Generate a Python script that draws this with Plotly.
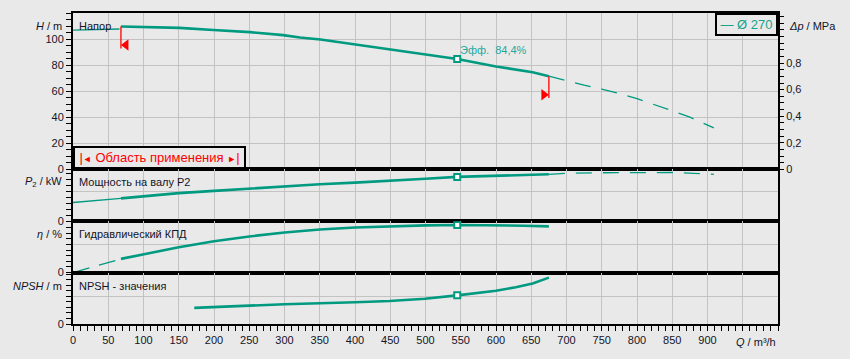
import plotly.graph_objects as go

# ---------------- data ----------------
q_min = 68          # start of operating range, m3/h
q_max = 675         # end of operating range, m3/h
q_bep = 545         # best efficiency point, m3/h
eff_text = "Эфф.  84,4%"
impeller = "Ø 270"

# Head H [m]
h_start_q = [0, 30, 66]
h_start = [106.9, 107.2, 107.7]
h_q = [68, 109, 151, 199, 251, 298, 322, 351, 400, 449, 499, 545, 600, 652, 675]
h_val = [109.6, 109.2, 108.6, 106.9, 105.3, 103.0, 101.2, 99.7, 95.9, 91.8, 88.2, 84.7, 79.0, 74.5, 71.5]
h_ext_q = [675, 700, 725, 750, 775, 800, 825, 850, 875, 900, 909]
h_ext = [71.5, 68.0, 64.6, 61.6, 58.2, 54.2, 49.8, 44.9, 40.0, 34.3, 31.8]
h_bep = 84.7

# Shaft power P2 [kW]
p_start_q = [0, 50, 68]
p_start = [62.7, 72.6, 76.3]
p_q = [68, 100, 150, 200, 250, 300, 350, 400, 450, 500, 545, 600, 650, 675]
p_val = [76.3, 83.8, 93.7, 101.3, 108.9, 116.8, 123.4, 128.7, 134.3, 141.5, 147.8, 151.8, 155.0, 156.4]
p_ext_q = [675, 700, 750, 800, 850, 880, 909]
p_ext = [156.4, 159.5, 161.5, 162.8, 162.5, 159.5, 156.5]
p_bep = 147.8

# Hydraulic efficiency eta [%]
e_start_q = [0, 30, 68]
e_start = [0, 11.0, 24.3]
e_q = [68, 100, 150, 200, 250, 300, 350, 400, 450, 500, 545, 600, 640, 675]
e_val = [24.3, 32.5, 45.0, 55.5, 64.0, 71.0, 76.2, 79.8, 82.0, 83.6, 84.4, 84.3, 83.0, 81.9]
e_bep = 84.4

# NPSH [m]
n_q = [172, 200, 250, 300, 371, 400, 449, 499, 545, 580, 600, 628, 652, 675]
n_val = [2.91, 3.09, 3.32, 3.57, 3.75, 3.93, 4.16, 4.57, 5.18, 5.71, 6.0, 6.66, 7.32, 8.39]
n_bep = 5.18

x_ticks = list(range(0, 1001, 50))
x_labels = [str(v) if v <= 900 else "" for v in x_ticks]
h_ticks = [0, 20, 40, 60, 80, 100]
dp_ticks = [0, 0.2, 0.4, 0.6, 0.8]
dp_labels = ["0", "0,2", "0,4", "0,6", "0,8"]
RHO_G = 1000 * 9.81 / 1e6   # m of head -> MPa

# ---------------- style ----------------
TEAL = "#009a80"
TEAL_TXT = "#17a38c"
EFF_TXT = "#22a89e"
RED = "#ff0000"
BG = "#e9e9e9"
GRID = "#c3c3c3"
TXT = "#141428"
FONT = "Liberation Sans, Arial, sans-serif"
THICK = 2.6
THIN = 1.3
DASH = "16px,11px"
MARK_LEN = 16.8
TRI_DY = 14.2
TRI_DX = 7.1

fig = go.Figure()

def line(x, y, ax, width, dash="solid"):
    fig.add_trace(go.Scatter(x=x, y=y, mode="lines", xaxis=ax[0], yaxis=ax[1],
                             line=dict(color=TEAL, width=width, dash=dash),
                             showlegend=False, hoverinfo="skip"))

def bep(y, ax):
    fig.add_trace(go.Scatter(x=[q_bep], y=[y], mode="markers", xaxis=ax[0], yaxis=ax[1],
                             marker=dict(symbol="square", size=6, color="white",
                                         line=dict(color=TEAL, width=2)),
                             showlegend=False, hoverinfo="skip"))

A1, A2, A3, A4 = ("x", "y"), ("x2", "y2"), ("x3", "y3"), ("x4", "y4")

# H
line(h_start_q, h_start, A1, THIN)
line(h_q, h_val, A1, THICK)
line(h_ext_q, h_ext, A1, THIN, DASH)
# invisible trace for the pressure axis
fig.add_trace(go.Scatter(x=h_q, y=[v * RHO_G for v in h_val], mode="lines", xaxis="x", yaxis="y5",
                         line=dict(color="rgba(0,0,0,0)", width=0), showlegend=False, hoverinfo="skip"))
# operating range markers
h_first, h_last = h_val[0], h_val[-1]
fig.add_trace(go.Scatter(x=[q_min, q_min, None, q_max, q_max],
                         y=[h_first, h_first - MARK_LEN, None, h_last, h_last - MARK_LEN],
                         mode="lines", xaxis="x", yaxis="y", line=dict(color=RED, width=1.3),
                         showlegend=False, hoverinfo="skip"))
fig.add_trace(go.Scatter(x=[q_min + TRI_DX], y=[h_first - TRI_DY], mode="markers", xaxis="x", yaxis="y",
                         marker=dict(symbol="triangle-left", size=10, color=RED),
                         showlegend=False, hoverinfo="skip"))
fig.add_trace(go.Scatter(x=[q_max - TRI_DX], y=[h_last - TRI_DY], mode="markers", xaxis="x", yaxis="y",
                         marker=dict(symbol="triangle-right", size=10, color=RED),
                         showlegend=False, hoverinfo="skip"))
bep(h_bep, A1)

# P2
line(p_start_q, p_start, A2, THIN)
line(p_q, p_val, A2, THICK)
line(p_ext_q, p_ext, A2, THIN, DASH)
bep(p_bep, A2)

# eta
line(e_start_q, e_start, A3, THIN, "17px,10px")
line(e_q, e_val, A3, THICK)
bep(e_bep, A3)

# NPSH
line(n_q, n_val, A4, THICK)
bep(n_bep, A4)

# ---------------- axes ----------------
b1, b2, b3 = 0.4974, 0.3300, 0.1652
tickfont = dict(family=FONT, size=11, color=TXT)

def xax(anchor, show):
    d = dict(domain=[0, 1], range=[0, 1000], anchor=anchor, showline=True, mirror=True,
             linecolor="black", linewidth=2, showgrid=True, gridcolor=GRID, gridwidth=1,
             tickmode="array", tickvals=x_ticks, zeroline=False, fixedrange=True)
    if show:
        d.update(ticktext=x_labels, ticks="outside", ticklen=5, tickcolor="black", tickwidth=1,
                 tickfont=tickfont,
                 minor=dict(tickmode="array", tickvals=list(range(0, 1001, 10)),
                            ticks="outside", ticklen=5, tickcolor="black", tickwidth=1, showgrid=False))
    else:
        d.update(showticklabels=False, ticks="", matches="x4")
    return d

def yax(domain, rng, tickvals, ticktext, minor_step, anchor, grid=True):
    minor_vals = []
    v = 0.0
    while v <= rng[1] + 1e-9:
        minor_vals.append(round(v, 6))
        v += minor_step
    return dict(domain=domain, range=rng, anchor=anchor, showline=True, mirror=True,
                linecolor="black", linewidth=2, showgrid=grid, gridcolor=GRID, gridwidth=1,
                tickmode="array", tickvals=tickvals, ticktext=ticktext, ticks="outside",
                ticklen=5, tickcolor="black", tickwidth=1, tickfont=tickfont, zeroline=False,
                fixedrange=True,
                minor=dict(tickmode="array", tickvals=minor_vals, ticks="outside", ticklen=5,
                           tickcolor="black", tickwidth=1, showgrid=False))

fig.update_layout(
    width=850, height=359,
    margin=dict(l=73, r=72, t=11, b=35),
    paper_bgcolor=BG, plot_bgcolor=BG,
    font=dict(family=FONT, size=11, color=TXT),
    xaxis=xax("y", False),
    xaxis2=xax("y2", False),
    xaxis3=xax("y3", False),
    xaxis4=xax("y4", True),
    yaxis=yax([b1, 1], [0, 120], h_ticks, [str(v) for v in h_ticks], 5, "x"),
    yaxis2=yax([b2, b1], [0, 173], [0, 100], ["0", ""], 20, "x2"),
    yaxis3=yax([b3, b2], [0, 90.7], [0, 50], ["0", ""], 10, "x3"),
    yaxis4=yax([0, b3], [0, 9.29], [0, 5], ["0", ""], 1, "x4"),
    yaxis5=dict(overlaying="y", side="right", anchor="x", range=[0, 120 * RHO_G],
                tickmode="array", tickvals=dp_ticks, ticktext=dp_labels, ticks="outside",
                ticklen=5, tickcolor="black", tickwidth=1, tickfont=tickfont, showgrid=False,
                zeroline=False, showline=False, fixedrange=True,
                minor=dict(tickmode="array", tickvals=[round(i * 0.05, 2) for i in range(24)],
                           ticks="outside", ticklen=5, tickcolor="black", tickwidth=1, showgrid=False)),
)

ann = []
def label(text, xref, x, yref, y, xanchor, xshift=0, yshift=0, color=TXT, size=11):
    ann.append(dict(text=text, xref=xref, x=x, yref=yref, y=y, xanchor=xanchor, yanchor="middle",
                    xshift=xshift, yshift=yshift, showarrow=False,
                    font=dict(family=FONT, size=size, color=color)))

# axis titles
label("<i>H</i> / m", "paper", 0, "y", 110, "right", xshift=-9)
label("<i>Δp</i> / MPa", "paper", 1, "y", 110, "left", xshift=9)
label("<i>P</i><sub>2</sub> / kW", "paper", 0, "y2 domain", 0.75, "right", xshift=-9)
label("<i>η</i> / %", "paper", 0, "y3 domain", 0.755, "right", xshift=-9)
label("<i>NPSH</i> / m", "paper", 0, "y4 domain", 0.742, "right", xshift=-9)
label("<i>Q</i> / m³/h", "paper", 1, "paper", 0, "right", yshift=-17.5)
# curve names
label("Напор", "paper", 0, "y", 110, "left", xshift=4)
label("Мощность на валу P2", "paper", 0, "y2 domain", 0.75, "left", xshift=4)
label("Гидравлический КПД", "paper", 0, "y3 domain", 0.755, "left", xshift=4)
label("NPSH - значения", "paper", 0, "y4 domain", 0.742, "left", xshift=4)
# efficiency text
ann.append(dict(text=eff_text, x=q_bep, y=h_bep, xref="x", yref="y", xanchor="left", yanchor="bottom",
                xshift=1, yshift=1, showarrow=False, font=dict(family=FONT, size=11, color=EFF_TXT)))
# impeller legend box
ann.append(dict(text="— " + impeller, x=1, y=1, xref="paper", yref="paper", xanchor="right",
                yanchor="top", showarrow=False, bordercolor="black", borderwidth=2, borderpad=2,
                bgcolor=BG, width=55, height=15,
                font=dict(family=FONT, size=13, color=TEAL_TXT)))
# operating range box
ann.append(dict(text="|<span style='font-size:9px'>◄</span> Область применения "
                     "<span style='font-size:9px'>►</span>|",
                x=0, y=0, xref="paper", yref="y", xanchor="left", yanchor="bottom",
                showarrow=False, bordercolor="black", borderwidth=2, borderpad=1,
                bgcolor=BG, width=167, height=17,
                font=dict(family=FONT, size=13, color=RED)))
fig.update_layout(annotations=ann)

fig.write_html("out.html")
